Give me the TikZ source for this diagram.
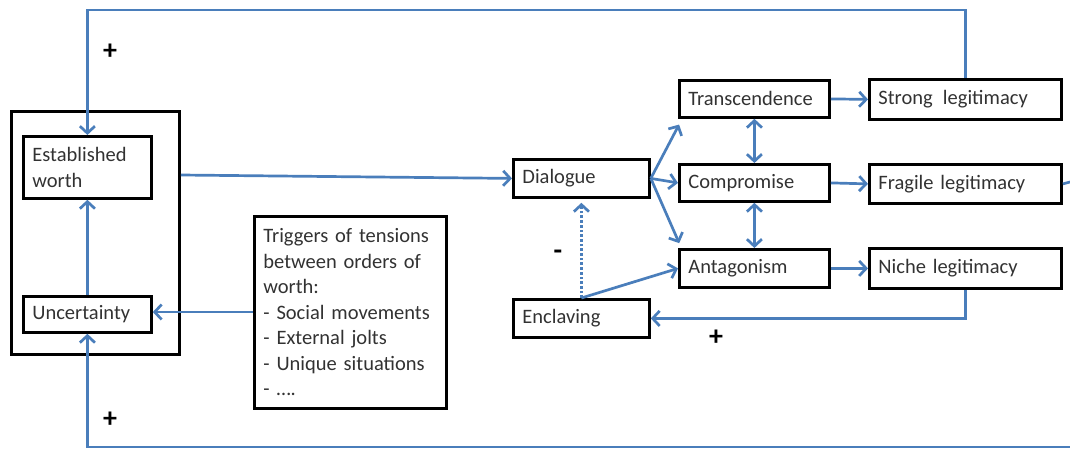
\documentclass[tikz,border=0pt]{standalone}
\usepackage{fontspec}
\setmainfont{Carlito}
\usetikzlibrary{arrows.meta,calc}
\definecolor{lnblue}{RGB}{74,126,187}
\definecolor{txt}{RGB}{50,50,50}
\tikzset{
  bx/.style={draw=black, line width=2.8pt, inner xsep=9pt, inner ysep=0pt, align=left, anchor=north west, text=txt, font=\fontsize{20.5}{25.5}\selectfont},
  fb/.style={draw=lnblue, line width=2.7pt},
  arr/.style={fb, -{Straight Barb[length=7pt,width=15pt,line width=2.7pt]}},
  darr/.style={fb, {Straight Barb[length=7pt,width=15pt,line width=2.7pt]}-{Straight Barb[length=7pt,width=15pt,line width=2.7pt]}},
  sgn/.style={font=\bfseries\fontsize{28}{28}\selectfont, text=black, inner sep=0pt}
}
\begin{document}
\begin{tikzpicture}[x=1pt,y=-1pt]
\useasboundingbox (0,0) rectangle (1070,450);
% group box
\node[draw=black, line width=2.8pt, minimum width=168pt, minimum height=243pt, anchor=north west, inner sep=0pt] (grp) at (10,110) {};
\node[bx, text width=110pt, minimum height=62pt] (est) at (22,135) {Established\\worth};
\node[bx, text width=110pt, minimum height=36pt] (unc) at (22,295) {Uncertainty};
\node[bx, text width=174pt, minimum height=192pt] (trig) at (253,215) {Triggers of tensions\\between orders of\\worth:\\- Social movements\\- External jolts\\- Unique situations\\- ….};
\node[bx, text width=118pt, minimum height=38pt] (dia) at (512,158) {Dialogue};
\node[bx, text width=118pt, minimum height=38pt] (enc) at (512,298) {Enclaving};
\node[bx, text width=132pt, minimum height=37pt] (tra) at (678,79) {Transcendence};
\node[bx, text width=132pt, minimum height=37pt] (com) at (678,163) {Compromise};
\node[bx, text width=132pt, minimum height=38pt] (ant) at (678,248) {Antagonism};
\node[bx, text width=174pt, minimum height=40pt] (str) at (868,78) {Strong\, legitimacy};
\node[bx, text width=174pt, minimum height=39pt] (fra) at (868,163) {Fragile legitimacy};
\node[bx, text width=174pt, minimum height=40pt] (nic) at (868,247) {Niche legitimacy};
\coordinate (rf) at (1070,182);
\coordinate (rb) at (1070,447);
\coordinate (gx) at (grp.east |- 0,175);
% connectors
\draw[arr] (str.north) |- (est.north |- 0,10) -- (est.north);
\draw[arr] (rb) -- (unc.south |- rb) -- (unc.south);
\draw[fb] (fra.east) -- (rf);
\draw[arr] (unc.north) -- (est.south);
\draw[arr] (trig.west |- 0,312) -- (unc.east |- 0,312);
\draw[arr] (gx) -- (dia.west);
\draw[arr, shorten >=2pt] (dia.east) -- ($(tra.south west)+(2,4)$);
\draw[arr] (dia.east) -- (com.west);
\draw[arr, shorten >=2pt] (dia.east) -- ($(ant.north west)+(2,-3)$);
\draw[arr, dotted, line width=2.2pt] (enc.north) -- ($(dia.south)+(0,4)$);
\draw[arr] (enc.north) -- (ant.west);
\draw[darr] (tra.south) -- (com.north);
\draw[darr] (com.south) -- (ant.north);
\draw[arr] (tra.east) -- (str.west);
\draw[arr] (com.east) -- (fra.west);
\draw[arr] (ant.east) -- (nic.west);
\draw[arr] (nic.south) |- (enc.east);
% signs
\node[sgn] (p1) at (110,52) {+};
\node[sgn] (p2) at (110,420) {+};
\node[sgn] (p3) at (716,338) {+};
\node[sgn] (m1) at (558,255) {-};
\end{tikzpicture}
\end{document}
